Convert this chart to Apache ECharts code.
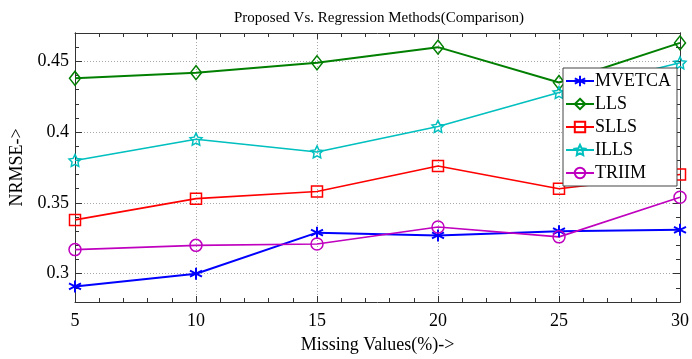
<!DOCTYPE html>
<html>
<head>
<meta charset="utf-8">
<script src="https://cdn.jsdelivr.net/npm/echarts@6/dist/echarts.min.js"></script>
<style>html,body{margin:0;padding:0;background:#fff}#c{width:692px;height:359px}</style>
</head>
<body>
<div id="c"></div>
<script>
const xValues = [5, 10, 15, 20, 25, 30];
const mvetca = [0.291, 0.300, 0.329, 0.327, 0.330, 0.331];
const lls    = [0.438, 0.442, 0.449, 0.460, 0.435, 0.463];
const slls   = [0.338, 0.353, 0.358, 0.376, 0.360, 0.370];
const ills   = [0.380, 0.395, 0.386, 0.404, 0.428, 0.449];
const triim  = [0.317, 0.320, 0.321, 0.333, 0.326, 0.354];
const yTicks = [0.3, 0.35, 0.4, 0.45];
const seriesNames = ['MVETCA', 'LLS', 'SLLS', 'ILLS', 'TRIIM'];

const FONT = '"Liberation Serif", "Times New Roman", serif';
const AX = '#333';
const asterisk = 'path://M0,-10L0,10M-8.7,-5L8.7,5M-8.7,5L8.7,-5';

function pts(arr){ return xValues.map((x,i)=>[x, arr[i]]); }
function mk(name, data, color, symbol, size, lw){
  return {
    name, type:'line', data: pts(data), symbol, symbolSize:size,
    lineStyle:{color, width:lw},
    itemStyle:{color:'rgba(0,0,0,0)', borderColor:color, borderWidth:1.5},
    emphasis:{disabled:true}, z:3
  };
}
const series = [
  mk(seriesNames[0], mvetca, '#0000ff', asterisk, 12, 2),
  mk(seriesNames[1], lls, '#007f00', 'diamond', [11,14], 2),
  mk(seriesNames[2], slls, '#ff0000', 'rect', 11, 1.6),
  mk(seriesNames[3], ills, '#00bfbf', 'path://M0,-10L2.9,-4L9.5,-3.1L4.7,1.5L5.9,8.1L0,5L-5.9,8.1L-4.7,1.5L-9.5,-3.1L-2.9,-4Z', 12, 1.6),
  mk(seriesNames[4], triim, '#bf00bf', 'circle', 12, 1.6)
];
series[0].itemStyle.borderWidth = 2;

const chart = echarts.init(document.getElementById('c'));
const xBase = {
  type:'value', min:5, max:30, interval:5,
  axisLine:{show:true, onZero:false, lineStyle:{color:AX, width:1}},
  axisTick:{show:true, inside:true, length:6, lineStyle:{color:AX}},
  minorTick:{show:true, splitNumber:5, length:4, lineStyle:{color:AX}},
};
const yMinorBase = {
  type:'value', min:0.28, max:0.47, interval:0.01,
  axisLine:{show:true, onZero:false, lineStyle:{color:AX}},
  axisTick:{show:true, inside:true, length:4, lineStyle:{color:AX}},
  axisLabel:{show:false}, splitLine:{show:false}
};
chart.setOption({
  animation:false,
  backgroundColor:'#fff',
  title:{
    text:'Proposed Vs. Regression Methods(Comparison)',
    left:229, top:6,
    textStyle:{fontFamily:FONT, fontSize:15, fontWeight:'normal', color:'#000'}
  },
  grid:{left:66, right:11, top:33, bottom:48},
  legend:{
    data:seriesNames, orient:'vertical', left:563, top:68,
    backgroundColor:'#fff', borderColor:'#444', borderWidth:1,
    padding:[4,6,4,2], itemGap:5, itemWidth:28, itemHeight:13,
    textStyle:{fontFamily:FONT, fontSize:18, lineHeight:18, color:'#000', padding:[0,0,0,-4]},
    z:10
  },
  xAxis:[
    Object.assign({}, xBase, {
      position:'bottom',
      name:'Missing Values(%)->', nameLocation:'middle', nameGap:34,
      nameTextStyle:{fontFamily:FONT, fontSize:18, color:'#000'},
      axisLabel:{fontFamily:FONT, fontSize:18, color:'#000', margin:10},
      splitLine:{show:true, lineStyle:{color:'#a8a8a8', type:[1,2], width:1}}
    }),
    Object.assign({}, xBase, {position:'top', axisLabel:{show:false}, splitLine:{show:false}})
  ],
  yAxis:[
    {
      type:'value', min:0.28, max:0.47, position:'left',
      name:'NRMSE->', nameLocation:'middle', nameGap:49,
      nameTextStyle:{fontFamily:FONT, fontSize:18, color:'#000'},
      axisLine:{show:true, onZero:false, lineStyle:{color:AX}},
      axisTick:{show:true, inside:true, length:7, customValues:yTicks, lineStyle:{color:AX}},
      axisLabel:{fontFamily:FONT, fontSize:18, color:'#000', margin:6, customValues:yTicks,
        formatter:v=>String(+v.toFixed(2))},
      splitLine:{show:true, lineStyle:{color:'#a8a8a8', type:[1,2], width:1}}
    },
    Object.assign({}, yMinorBase, {position:'left'}),
    Object.assign({}, yMinorBase, {position:'right'}),
    {
      type:'value', min:0.28, max:0.47, position:'right',
      axisLine:{show:true, onZero:false, lineStyle:{color:AX}},
      axisTick:{show:true, inside:true, length:7, customValues:yTicks, lineStyle:{color:AX}},
      axisLabel:{show:false, customValues:yTicks}, splitLine:{show:false}
    }
  ],
  series: series
});
</script>
</body>
</html>
